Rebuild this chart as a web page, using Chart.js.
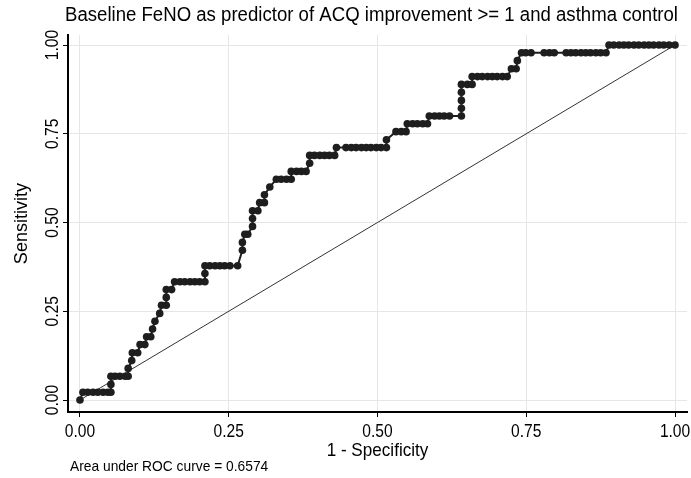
<!DOCTYPE html>
<html>
<head>
<meta charset="utf-8">
<script src="https://cdn.jsdelivr.net/npm/chart.js@4.4.1/dist/chart.umd.min.js"></script>
<style>
  html, body { margin: 0; padding: 0; background: #fff; }
  #wrap { width: 691px; height: 478px; }
</style>
</head>
<body>
<div id="wrap"><canvas id="roc"></canvas></div>
<script>
// ROC cutpoints: 1 - specificity and sensitivity
const fpr = [
  0, 0.005, 0.013, 0.022, 0.030, 0.039, 0.047, 0.052, 0.052, 0.052,
  0.059, 0.067, 0.076, 0.081, 0.081, 0.087, 0.088, 0.097, 0.101, 0.109,
  0.112, 0.119, 0.122, 0.126, 0.134, 0.137, 0.145, 0.145, 0.145, 0.154,
  0.159, 0.168, 0.176, 0.185, 0.193, 0.201, 0.210, 0.210, 0.210, 0.218,
  0.227, 0.235, 0.243, 0.252, 0.265, 0.273, 0.273, 0.277, 0.282, 0.290,
  0.290, 0.290, 0.299, 0.302, 0.310, 0.310, 0.319, 0.330, 0.338, 0.347,
  0.355, 0.355, 0.364, 0.372, 0.380, 0.386, 0.386, 0.394, 0.403, 0.411,
  0.419, 0.428, 0.431, 0.447, 0.456, 0.464, 0.473, 0.481, 0.489, 0.498,
  0.506, 0.515, 0.515, 0.531, 0.540, 0.548, 0.550, 0.559, 0.567, 0.576,
  0.584, 0.587, 0.596, 0.604, 0.612, 0.621, 0.641, 0.641, 0.641, 0.641,
  0.641, 0.651, 0.659, 0.659, 0.668, 0.676, 0.685, 0.693, 0.701, 0.710,
  0.718, 0.725, 0.733, 0.735, 0.742, 0.749, 0.758, 0.780, 0.789, 0.797,
  0.817, 0.825, 0.833, 0.842, 0.850, 0.858, 0.867, 0.875, 0.884, 0.889,
  0.897, 0.906, 0.914, 0.922, 0.931, 0.939, 0.948, 0.956, 0.964, 0.973,
  0.981, 0.990, 1
];
const tpr = [
  0, 0.022, 0.022, 0.022, 0.022, 0.022, 0.022, 0.022, 0.044, 0.067,
  0.067, 0.067, 0.067, 0.067, 0.089, 0.111, 0.133, 0.133, 0.156, 0.156,
  0.178, 0.178, 0.200, 0.222, 0.244, 0.267, 0.267, 0.289, 0.311, 0.311,
  0.333, 0.333, 0.333, 0.333, 0.333, 0.333, 0.333, 0.356, 0.378, 0.378,
  0.378, 0.378, 0.378, 0.378, 0.378, 0.422, 0.444, 0.467, 0.467, 0.489,
  0.511, 0.533, 0.533, 0.556, 0.556, 0.578, 0.600, 0.622, 0.622, 0.622,
  0.622, 0.644, 0.644, 0.644, 0.644, 0.667, 0.689, 0.689, 0.689, 0.689,
  0.689, 0.689, 0.711, 0.711, 0.711, 0.711, 0.711, 0.711, 0.711, 0.711,
  0.711, 0.711, 0.733, 0.756, 0.756, 0.756, 0.778, 0.778, 0.778, 0.778,
  0.778, 0.800, 0.800, 0.800, 0.800, 0.800, 0.800, 0.822, 0.844, 0.867,
  0.889, 0.889, 0.889, 0.911, 0.911, 0.911, 0.911, 0.911, 0.911, 0.911,
  0.911, 0.933, 0.933, 0.956, 0.978, 0.978, 0.978, 0.978, 0.978, 0.978,
  0.978, 0.978, 0.978, 0.978, 0.978, 0.978, 0.978, 0.978, 0.978, 1,
  1, 1, 1, 1, 1, 1, 1, 1, 1, 1,
  1, 1, 1
];
// reference line of no discrimination
const diagX = [0, 1];
const diagY = [0, 1];
const tickVals = [0, 0.25, 0.5, 0.75, 1];
const titleText = "Baseline FeNO as predictor of ACQ improvement >= 1 and asthma control";
const xTitle = "1 - Specificity";
const yTitle = "Sensitivity";
const aucText = "Area under ROC curve = 0.6574";

const FONT = "'Liberation Sans', Arial, sans-serif";
const NARROW = 0.82; // squeeze Arial down to a narrow face
Chart.defaults.font.family = FONT;
Chart.defaults.color = "#000";

const rocPoints = fpr.map((x, i) => ({ x, y: tpr[i] }));
const diagPoints = diagX.map((x, i) => ({ x, y: diagY[i] }));

function narrowText(ctx, text, x, y, size, align, rot, sx) {
  ctx.save();
  ctx.translate(x, y);
  if (rot) ctx.rotate(rot);
  ctx.scale(sx || NARROW, 1);
  ctx.font = `${size}px ${FONT}`;
  ctx.textAlign = align;
  ctx.textBaseline = "middle";
  ctx.fillText(text, 0, 0);
  ctx.restore();
}

// tick labels, axis titles, graph title and AUC note in a narrow face
const textPlugin = {
  id: "stataText",
  afterDraw(chart) {
    const ctx = chart.ctx;
    const { x, y } = chart.scales;
    const area = chart.chartArea;
    ctx.save();
    ctx.fillStyle = "#000";
    tickVals.forEach((v) => {
      narrowText(ctx, v.toFixed(2), x.getPixelForValue(v), 432, 19, "center");
      narrowText(ctx, v.toFixed(2), 53, y.getPixelForValue(v), 19, "center", -Math.PI / 2);
    });
    narrowText(ctx, xTitle, (area.left + area.right) / 2, 451, 19, "center", 0, 0.9);
    narrowText(ctx, yTitle, 22, (area.top + area.bottom) / 2, 19, "center", -Math.PI / 2, 0.95);

    ctx.font = `20px ${FONT}`;
    const w = ctx.measureText(titleText).width;
    narrowText(ctx, titleText, 65, 15, 20, "left", 0, 613 / w);
    narrowText(ctx, aucText, 70, 467, 15, "left", 0, 0.92);
    ctx.restore();
  },
};

new Chart(document.getElementById("roc"), {
  type: "scatter",
  data: {
    datasets: [
      {
        data: rocPoints,
        showLine: true,
        borderColor: "#1e1e1e",
        borderWidth: 2,
        pointRadius: 3.8,
        pointBackgroundColor: "#1e1e1e",
        pointBorderWidth: 0,
        tension: 0,
      },
      {
        data: diagPoints,
        showLine: true,
        borderColor: "#333",
        borderWidth: 1,
        pointRadius: 0,
      },
    ],
  },
  options: {
    responsive: true,
    maintainAspectRatio: false,
    animation: false,
    events: [],
    layout: { padding: { top: 35, right: 3, left: 0, bottom: 0 } },
    plugins: { legend: { display: false }, tooltip: { enabled: false } },
    scales: {
      x: {
        type: "linear",
        min: -0.0201,
        max: 1.0201,
        afterBuildTicks: (s) => { s.ticks = tickVals.map((v) => ({ value: v })); },
        afterFit: (s) => { s.height = 66; },
        ticks: { display: false },
        grid: { color: "#e6e6e6", tickColor: "#000", tickLength: 5 },
        border: { color: "#000", width: 2 },
      },
      y: {
        type: "linear",
        min: -0.0338,
        max: 1.0282,
        afterBuildTicks: (s) => { s.ticks = tickVals.map((v) => ({ value: v })); },
        afterFit: (s) => { s.width = 68; },
        ticks: { display: false },
        grid: { color: "#e6e6e6", tickColor: "#000", tickLength: 5 },
        border: { color: "#000", width: 2 },
      },
    },
  },
  plugins: [textPlugin],
});
</script>
</body>
</html>
